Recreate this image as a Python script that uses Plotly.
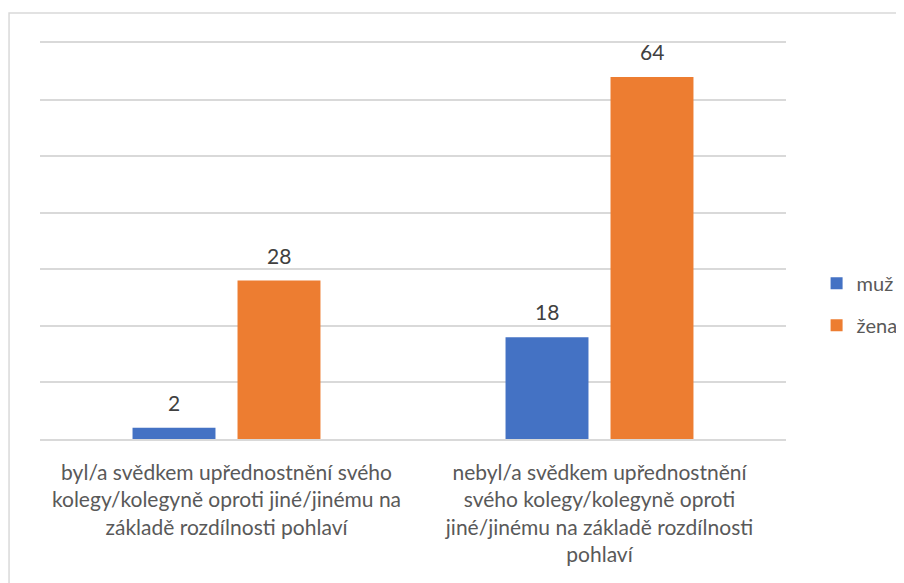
import plotly.graph_objects as go

categories = [
    "byl/a svědkem upřednostnění svého<br>kolegy/kolegyně oproti jiné/jinému na<br>základě rozdílnosti pohlaví",
    "nebyl/a svědkem upřednostnění<br>svého kolegy/kolegyně oproti<br>jiné/jinému na základě rozdílnosti<br>pohlaví",
]
series_names = ["muž", "žena"]
muz_values = [2, 18]
zena_values = [28, 64]
colors = ["#4472C4", "#ED7D31"]

FONT = "Lato, Carlito, sans-serif"

fig = go.Figure()
for name, vals, col in zip(series_names, [muz_values, zena_values], colors):
    fig.add_trace(go.Bar(
        x=categories, y=vals, name=name, marker_color=col,
        marker_line_width=0, legendgroup=name,
    ))

# data labels
for vals, shift in [(muz_values, -52.5), (zena_values, 52.5)]:
    for c, v in zip(categories, vals):
        fig.add_annotation(x=c, y=v, text=str(v), showarrow=False,
                           xshift=shift, yshift=11, yanchor="bottom",
                           font=dict(family=FONT, size=21, color="#404040"))

fig.add_shape(type="rect", xref="paper", yref="paper",
              x0=-0.0415, x1=1.3, y0=-0.5, y1=1.076,
              line=dict(color="#D9D9D9", width=1.5), layer="below")

fig.update_layout(
    width=896, height=575,
    margin=dict(l=32, r=118, t=35, b=144, autoexpand=False),
    plot_bgcolor="white", paper_bgcolor="white",
    barmode="group", bargap=0.437, bargroupgap=0.21,
    font=dict(family=FONT, size=21, color="#595959"),
    showlegend=True,
    legend=dict(x=1.041, y=0.34, yanchor="middle", xanchor="left",
                tracegroupgap=13, font=dict(family=FONT, size=20, color="#595959"),
                itemwidth=30, bgcolor="rgba(0,0,0,0)"),
    xaxis=dict(showgrid=False, showline=True, mirror=True, linecolor="#D9D9D9",
               linewidth=1.5, ticks="", ticklabelstandoff=14,
               tickfont=dict(family=FONT, size=21, color="#595959")),
    yaxis=dict(range=[0, 70], dtick=10, showticklabels=False,
               gridcolor="#D9D9D9", gridwidth=1.5, zeroline=False, showline=False),
)

fig.write_html("out.html")
